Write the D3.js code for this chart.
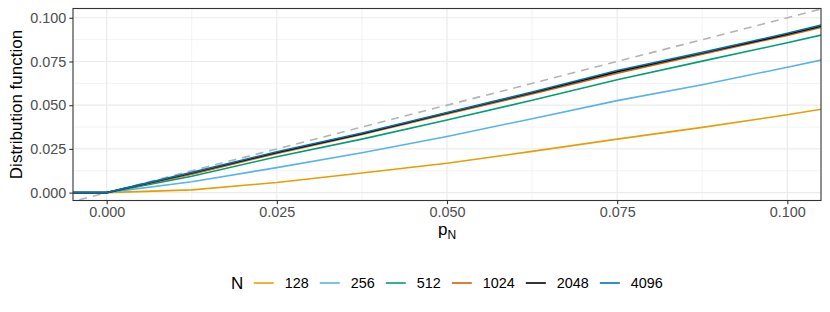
<!DOCTYPE html>
<html>
<head>
<meta charset="utf-8">
<script src="https://cdn.jsdelivr.net/npm/d3@7"></script>
<style>
  body { margin: 0; background: white; }
  text { font-family: "Liberation Sans", Arial, sans-serif; }
</style>
</head>
<body>
<div id="chart"></div>
<script>
// data
var pValues = [-0.005, 0, 0.0125, 0.025, 0.0375, 0.05, 0.0625, 0.075, 0.0875, 0.1, 0.105];
var groups = ["128", "256", "512", "1024", "2048", "4096"];
var cdf128  = [0, 0, 0.0016, 0.0058, 0.0112, 0.0168, 0.0236, 0.0306, 0.0373, 0.0445, 0.0477];
var cdf256  = [0, 0, 0.0062, 0.0143, 0.0228, 0.0321, 0.0423, 0.0526, 0.0617, 0.0717, 0.0758];
var cdf512  = [0, 0, 0.0094, 0.0205, 0.0306, 0.0415, 0.0528, 0.0646, 0.0752, 0.0857, 0.0901];
var cdf1024 = [0, 0, 0.0106, 0.0224, 0.0332, 0.0450, 0.0564, 0.0683, 0.0792, 0.0899, 0.0945];
var cdf2048 = [0, 0, 0.0112, 0.0230, 0.0337, 0.0455, 0.0571, 0.0692, 0.0798, 0.0906, 0.0953];
var cdf4096 = [0, 0, 0.0116, 0.0234, 0.0341, 0.0458, 0.0575, 0.0698, 0.0802, 0.0911, 0.0958];
var xTicks = [0, 0.025, 0.05, 0.075, 0.1];
var yTicks = [0, 0.025, 0.05, 0.075, 0.1];
var xMinor = [0.0125, 0.0375, 0.0625, 0.0875];
var yMinor = [0.0125, 0.0375, 0.0625, 0.0875];

var colors = ["#E69F00", "#56B4E9", "#009E73", "#D55E00", "#000000", "#0072B2"];
var allSeries = [cdf128, cdf256, cdf512, cdf1024, cdf2048, cdf4096];

var W = 830, H = 312;
var margin = {top: 8.5, right: 9, bottom: 111.5, left: 73};
var width = W - margin.left - margin.right,
    height = H - margin.top - margin.bottom;

var svg = d3.select("#chart").append("svg")
  .attr("width", W).attr("height", H);

var g = svg.append("g")
  .attr("transform", "translate(" + margin.left + "," + margin.top + ")");

var x = d3.scaleLinear().domain([-0.00495, 0.10495]).range([0, width]);
var y = d3.scaleLinear().domain([-0.0045, 0.1053]).range([height, 0]);

var gridColor = "#EBEBEB";

// minor grid
g.selectAll(".xminor").data(xMinor).enter().append("line")
  .attr("x1", d => x(d)).attr("x2", d => x(d))
  .attr("y1", 0).attr("y2", height)
  .style("stroke", gridColor).style("stroke-width", 0.6);
g.selectAll(".yminor").data(yMinor).enter().append("line")
  .attr("y1", d => y(d)).attr("y2", d => y(d))
  .attr("x1", 0).attr("x2", width)
  .style("stroke", gridColor).style("stroke-width", 0.6);
// major grid
g.selectAll(".xmajor").data(xTicks).enter().append("line")
  .attr("x1", d => x(d)).attr("x2", d => x(d))
  .attr("y1", 0).attr("y2", height)
  .style("stroke", gridColor).style("stroke-width", 1.2);
g.selectAll(".ymajor").data(yTicks).enter().append("line")
  .attr("y1", d => y(d)).attr("y2", d => y(d))
  .attr("x1", 0).attr("x2", width)
  .style("stroke", gridColor).style("stroke-width", 1.2);

g.append("clipPath").attr("id", "clip")
  .append("rect").attr("width", width).attr("height", height);

var plot = g.append("g").attr("clip-path", "url(#clip)");

// diagonal reference y = x
plot.append("line")
  .attr("x1", x(-0.01)).attr("y1", y(-0.01))
  .attr("x2", x(0.11)).attr("y2", y(0.11))
  .style("stroke", "#B3B3B3")
  .style("stroke-width", 1.6)
  .style("stroke-dasharray", "8,6");

var line = d3.line()
  .x(function(d, i) { return x(pValues[i]); })
  .y(function(d) { return y(d); });

allSeries.forEach(function(s, k) {
  plot.append("path")
    .datum(s)
    .attr("d", line)
    .style("fill", "none")
    .style("stroke", colors[k])
    .style("stroke-width", 1.6);
});

// panel border
g.append("rect")
  .attr("width", width).attr("height", height)
  .style("fill", "none").style("stroke", "#333333").style("stroke-width", 1.1);

// axes
var xAxis = g.append("g")
  .attr("transform", "translate(0," + height + ")")
  .call(d3.axisBottom(x).tickValues(xTicks).tickFormat(d3.format(".3f")).tickSizeInner(3.7).tickSizeOuter(0).tickPadding(3));
var yAxis = g.append("g")
  .call(d3.axisLeft(y).tickValues(yTicks).tickFormat(d3.format(".3f")).tickSizeInner(3.7).tickSizeOuter(0).tickPadding(3));

[xAxis, yAxis].forEach(function(a) {
  a.select(".domain").remove();
  a.selectAll(".tick line").style("stroke", "#333333").style("stroke-width", 1.1);
  a.selectAll(".tick text")
    .style("fill", "#4D4D4D")
    .style("font-size", "14.4px")
    .style("font-family", "'Liberation Sans', Arial, sans-serif");
});

// axis titles
svg.append("text")
  .attr("transform", "translate(22," + (margin.top + height / 2) + ") rotate(-90)")
  .attr("text-anchor", "middle")
  .style("font-size", "17px")
  .style("fill", "black")
  .text("Distribution function");

var xt = svg.append("text")
  .attr("x", margin.left + width / 2)
  .attr("y", 235)
  .attr("text-anchor", "middle")
  .style("font-size", "17px")
  .style("fill", "black");
xt.append("tspan").text("p");
xt.append("tspan").attr("dy", 4).style("font-size", "12px").text("N");

// legend
var legend = svg.append("g").attr("transform", "translate(0,283)");
var lx = 231;
var title = legend.append("text")
  .attr("x", lx).attr("y", 6)
  .style("font-size", "17px")
  .text("N");
lx += title.node().getComputedTextLength() + 10.5;
groups.forEach(function(name, k) {
  legend.append("line")
    .attr("x1", lx).attr("x2", lx + 20)
    .attr("y1", 0).attr("y2", 0)
    .style("stroke", colors[k]).style("stroke-width", 1.6);
  lx += 31;
  var t = legend.append("text")
    .attr("x", lx).attr("y", 5)
    .style("font-size", "14.4px")
    .style("fill", "black")
    .text(name);
  lx += t.node().getComputedTextLength() + 11;
});
</script>
</body>
</html>
